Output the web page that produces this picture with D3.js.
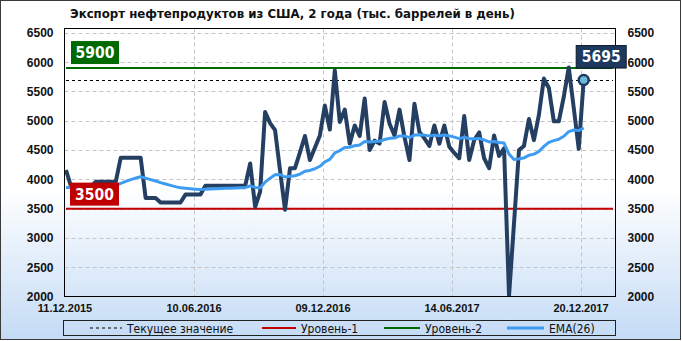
<!DOCTYPE html>
<html>
<head>
<meta charset="utf-8">
<script src="https://cdn.jsdelivr.net/npm/d3@7"></script>
<style>
body{margin:0;background:#fff;}
svg{display:block;font-family:"DejaVu Sans Condensed","DejaVu Sans",sans-serif;}
</style>
</head>
<body>
<div id="chart"></div>
<script>
// weekly values, thousand barrels per day
const tickLabels = ["11.12.2015","10.06.2016","09.12.2016","14.06.2017","20.12.2017"];

const exportValues = [
4160,3880,3880,3880,3880,3880,3960,3960,3960,3960,
3960,4370,4370,4370,4370,4370,3680,3680,3680,3605,
3605,3605,3605,3605,3740,3740,3740,3740,3890,3890,
3890,3890,3890,3890,3890,3890,3890,4270,3530,3790,
5150,4960,4840,4150,3480,4190,4190,4460,4740,4330,
4540,4750,5260,4850,5860,4980,5190,4610,4920,4740,
5380,4500,4660,4610,5320,4950,4750,5190,4720,4330,
5290,4810,4700,4570,4920,4610,4920,4555,4450,4360,
5080,4330,4670,4800,4360,4190,4750,4400,4530,2010,
3250,4500,4570,5030,4670,5100,5720,5560,4990,4990,
5410,5910,5220,4520,5695];

const emaValues = [
3860,3862,3863,3864,3866,3867,3874,3880,3886,3892,
3897,3932,3964,3994,4022,4045,4020,3995,3972,3945,
3920,3897,3875,3855,3847,3839,3832,3825,3830,3834,
3838,3842,3846,3849,3852,3855,3858,3888,3862,3856,
3952,4020,4078,4083,4040,4051,4062,4090,4138,4152,
4181,4223,4300,4340,4450,4490,4542,4548,4575,4588,
4646,4637,4645,4650,4680,4700,4705,4742,4742,4712,
4755,4760,4755,4742,4755,4744,4757,4742,4720,4694,
4720,4693,4691,4699,4672,4638,4646,4628,4620,4430,
4340,4350,4366,4412,4430,4476,4562,4632,4660,4684,
4736,4815,4843,4832,4878];

const yTicks = [2000,2500,3000,3500,4000,4500,5000,5500,6000,6500];
const level1 = 3500;
const level2 = 5900;
const currentValue = exportValues[exportValues.length - 1];
const legendNames = ["Текущее значение","Уровень-1","Уровень-2","EMA(26)"];
const title = "Экспорт нефтепродуктов из США, 2 года (тыс. баррелей в день)";

const width = 682, height = 341;
const plot = {left: 64.5, right: 615.5, top: 28.5, bottom: 296.5};
const colors = {
  line: "#243f62", ema: "#3d9cf2", red: "#c00000", green: "#006a00",
  navy: "#1d3a5e", grid: "#c4c4c4", marker: "#6cbad8"
};

const svg = d3.select("#chart")
  .append("svg")
  .attr("width", width)
  .attr("height", height);

const defs = svg.append("defs");
const grad = defs.append("linearGradient")
  .attr("id", "bg")
  .attr("x1", 0).attr("y1", 0).attr("x2", 0).attr("y2", 1);
grad.append("stop").attr("offset", "0%").attr("stop-color", "#ffffff");
grad.append("stop").attr("offset", "55%").attr("stop-color", "#ffffff");
grad.append("stop").attr("offset", "100%").attr("stop-color", "#c4dbf5");

defs.append("clipPath").attr("id", "plotclip")
  .append("rect")
  .attr("x", plot.left).attr("y", plot.top)
  .attr("width", plot.right - plot.left)
  .attr("height", plot.bottom - plot.top);

svg.append("rect")
  .attr("x", 0.5).attr("y", 0.5)
  .attr("width", 680).attr("height", 339)
  .attr("fill", "url(#bg)")
  .attr("stroke", "#3a3a3a");

const x = d3.scaleLinear()
  .domain([0, exportValues.length - 1])
  .range([66, 583.7]);

const xTick = d3.scalePoint()
  .domain(tickLabels)
  .range([plot.left, 580.5]);

const y = d3.scaleLinear()
  .domain([2000, 6575])
  .range([plot.bottom, plot.top]);

// grid
svg.append("g")
  .selectAll("line")
  .data(yTicks.slice(1))
  .join("line")
  .attr("x1", plot.left).attr("x2", plot.right)
  .attr("y1", d => Math.round(y(d)) + 0.5)
  .attr("y2", d => Math.round(y(d)) + 0.5)
  .attr("stroke", colors.grid)
  .attr("stroke-dasharray", "4,3");

svg.append("g")
  .selectAll("line")
  .data(tickLabels.slice(1))
  .join("line")
  .attr("x1", d => Math.round(xTick(d)) + 0.5)
  .attr("x2", d => Math.round(xTick(d)) + 0.5)
  .attr("y1", plot.top).attr("y2", plot.bottom)
  .attr("stroke", colors.grid)
  .attr("stroke-dasharray", "4,3");

// axes
const fmt = d3.format("d");
const yAxisLeft = d3.axisLeft(y).tickValues(yTicks).tickFormat(fmt).tickSize(0).tickPadding(11);
const yAxisRight = d3.axisRight(y).tickValues(yTicks).tickFormat(fmt).tickSize(0).tickPadding(12);
const xAxis = d3.axisBottom(xTick).tickSize(0).tickPadding(8);

svg.append("g")
  .attr("transform", `translate(${plot.left},0)`)
  .call(yAxisLeft)
  .call(g => g.select(".domain").remove())
  .selectAll("text")
  .attr("font-size", 12).attr("font-weight", "bold").attr("fill", "#111");

svg.append("g")
  .attr("transform", `translate(${plot.right},0)`)
  .call(yAxisRight)
  .call(g => g.select(".domain").remove())
  .selectAll("text")
  .attr("font-size", 12).attr("font-weight", "bold").attr("fill", "#111");

svg.append("g")
  .attr("transform", `translate(0,${plot.bottom})`)
  .call(xAxis)
  .call(g => g.select(".domain").remove())
  .selectAll("text")
  .attr("font-size", 11).attr("font-weight", "bold").attr("fill", "#111");

// levels
const lines = svg.append("g");
lines.append("line")
  .attr("x1", 66).attr("x2", 613)
  .attr("y1", y(level1)).attr("y2", y(level1))
  .attr("stroke", colors.red).attr("stroke-width", 2);
lines.append("line")
  .attr("x1", 66).attr("x2", 613)
  .attr("y1", y(level2)).attr("y2", y(level2))
  .attr("stroke", colors.green).attr("stroke-width", 2);
lines.append("line")
  .attr("x1", 66).attr("x2", 613)
  .attr("y1", Math.round(y(currentValue)) + 0.5).attr("y2", Math.round(y(currentValue)) + 0.5)
  .attr("stroke", "#000").attr("stroke-dasharray", "3,3");

// series
const lineGen = d3.line()
  .x((d, i) => x(i))
  .y(d => y(d));

const series = svg.append("g").attr("clip-path", "url(#plotclip)");

series.append("path")
  .datum(exportValues)
  .attr("d", lineGen)
  .attr("fill", "none")
  .attr("stroke", colors.line)
  .attr("stroke-width", 4)
  .attr("stroke-linejoin", "round");

series.append("path")
  .datum(emaValues)
  .attr("d", lineGen)
  .attr("fill", "none")
  .attr("stroke", colors.ema)
  .attr("stroke-width", 3)
  .attr("stroke-linejoin", "round");

// frame
svg.append("rect")
  .attr("x", plot.left).attr("y", plot.top)
  .attr("width", plot.right - plot.left)
  .attr("height", plot.bottom - plot.top)
  .attr("fill", "none")
  .attr("stroke", "#000");

// level tags
function tag(val, fill, bx, by, w, h, stroke) {
  svg.append("rect")
    .attr("x", bx).attr("y", by)
    .attr("width", w).attr("height", h)
    .attr("fill", fill)
    .attr("stroke", stroke || "none");
  svg.append("text")
    .attr("x", bx + w / 2).attr("y", by + h / 2)
    .attr("dy", "0.36em")
    .attr("text-anchor", "middle")
    .attr("font-size", 15.5).attr("font-weight", "bold")
    .attr("fill", "#fff")
    .text(val);
}
tag(level2, colors.green, 71, y(level2) - 27, 48, 23);
tag(level1, colors.red, 70, y(level1) - 26, 49, 23);

svg.append("circle")
  .attr("cx", x(exportValues.length - 1))
  .attr("cy", y(currentValue))
  .attr("r", 5)
  .attr("fill", colors.marker)
  .attr("stroke", colors.navy)
  .attr("stroke-width", 2.5);

tag(currentValue, colors.navy, x(exportValues.length - 1) - 7.5, y(currentValue) - 34.5, 50, 22.5, "#0d1a2a");

// title
svg.append("text")
  .attr("x", 70).attr("y", 18)
  .attr("font-size", 13.1).attr("font-weight", "bold")
  .attr("fill", "#111")
  .text(title);

// legend
const legendX = [90, 262, 384, 507];
const legend = svg.append("g");
legend.append("rect")
  .attr("x", 63.5).attr("y", 320.5)
  .attr("width", 552).attr("height", 15)
  .attr("fill", "none")
  .attr("stroke", "#222");

const legendStyle = [
  {stroke: "#000", width: 1, dash: "3,3", len: 32},
  {stroke: colors.red, width: 2, dash: null, len: 34},
  {stroke: colors.green, width: 2, dash: null, len: 36},
  {stroke: colors.ema, width: 3, dash: null, len: 37}
];

legendNames.forEach((name, i) => {
  const s = legendStyle[i];
  legend.append("line")
    .attr("x1", legendX[i]).attr("x2", legendX[i] + s.len)
    .attr("y1", 328).attr("y2", 328)
    .attr("stroke", s.stroke)
    .attr("stroke-width", s.width)
    .attr("stroke-dasharray", s.dash);
  legend.append("text")
    .attr("x", legendX[i] + s.len + 5)
    .attr("y", 332.5)
    .attr("font-size", 12)
    .attr("fill", "#111")
    .text(name);
});
</script>
</body>
</html>
